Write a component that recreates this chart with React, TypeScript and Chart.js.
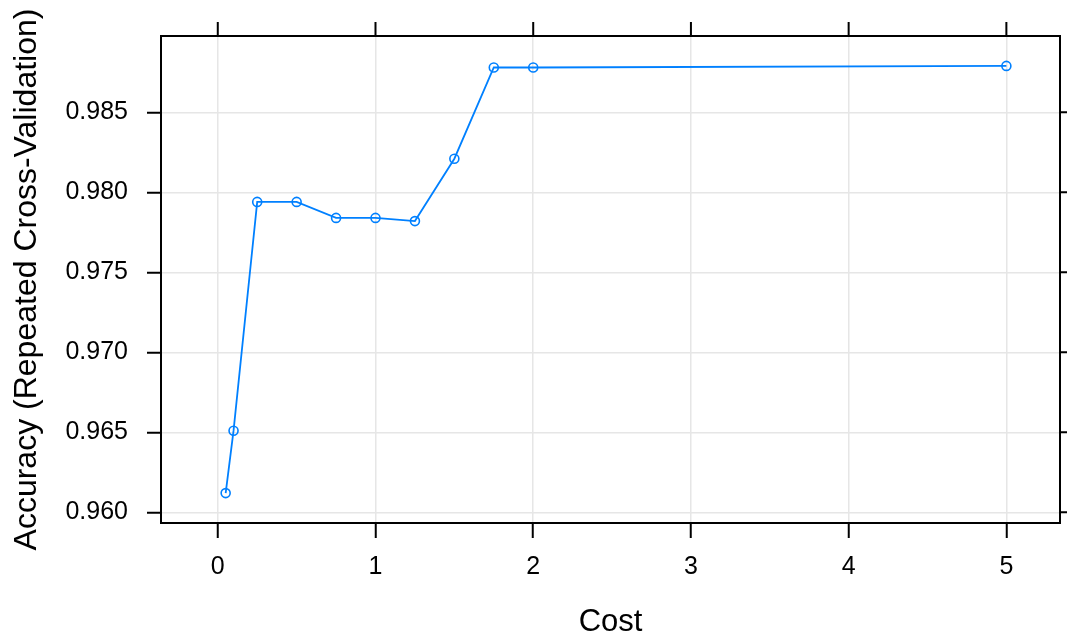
import React, { useEffect, useRef } from "react";
import { Chart, registerables } from "chart.js";

Chart.register(...registerables);

// Data
const costs = [0.05, 0.1, 0.25, 0.5, 0.75, 1, 1.25, 1.5, 1.75, 2, 5];
const accuracy = [0.9612, 0.9651, 0.9794, 0.9794, 0.9784, 0.9784, 0.9782, 0.9821, 0.9878, 0.9878, 0.9879];
const xTicks = [0, 1, 2, 3, 4, 5];
const yTicks = [0.96, 0.965, 0.97, 0.975, 0.98, 0.985];
const xTitle = "Cost";
const yTitle = "Accuracy (Repeated Cross-Validation)";

const LINE_COLOR = "#0080ff";
const FONT = "'Liberation Sans', Arial, sans-serif";

const boxPlugin = {
  id: "latticeBox",
  afterDraw(chart: any) {
    const { ctx, chartArea: a, scales } = chart;
    ctx.save();
    ctx.strokeStyle = "#000";
    ctx.lineWidth = 2;
    ctx.strokeRect(a.left, a.top, a.right - a.left, a.bottom - a.top);
    ctx.beginPath();
    for (const v of xTicks) {
      const px = scales.x.getPixelForValue(v);
      ctx.moveTo(px, a.top);
      ctx.lineTo(px, a.top - 14);
    }
    for (const v of yTicks) {
      const py = scales.y.getPixelForValue(v);
      ctx.moveTo(a.right, py);
      ctx.lineTo(a.right + 14, py);
    }
    ctx.stroke();
    ctx.restore();
  },
};

export default function App() {
  const ref = useRef<HTMLCanvasElement | null>(null);

  useEffect(() => {
    document.body.style.margin = "0";
    const canvas = ref.current;
    if (!canvas) return;
    const data = costs.map((c, i) => ({ x: c, y: accuracy[i] }));
    const chart = new Chart(canvas, {
      type: "scatter",
      data: {
        datasets: [
          {
            data,
            showLine: true,
            borderColor: LINE_COLOR,
            backgroundColor: "rgba(0,0,0,0)",
            borderWidth: 1.8,
            pointRadius: 4.5,
            pointBorderWidth: 1.6,
            pointBorderColor: LINE_COLOR,
            pointBackgroundColor: "rgba(0,0,0,0)",
            pointStyle: "circle",
          },
        ],
      },
      options: {
        responsive: false,
        animation: false,
        devicePixelRatio: 1,
        layout: { padding: { top: 36, right: 7, left: 0, bottom: 0 } },
        plugins: {
          legend: { display: false },
          tooltip: { enabled: false },
        },
        scales: {
          x: {
            type: "linear",
            min: -0.36,
            max: 5.34,
            afterBuildTicks: (s: any) => {
              s.ticks = xTicks.map((v) => ({ value: v }));
            },
            afterFit: (s: any) => {
              s.height = 113;
            },
            border: { display: false },
            grid: {
              color: "#e6e6e6",
              lineWidth: 1.5,
              drawTicks: true,
              tickLength: 15,
              tickColor: "#000",
              tickWidth: 2,
            },
            ticks: {
              autoSkip: false,
              maxRotation: 0,
              padding: 14,
              color: "#000",
              font: { family: FONT, size: 25, lineHeight: 1.2 },
              callback: (v: any) => String(v),
            },
            title: {
              display: true,
              text: xTitle,
              color: "#000",
              font: { family: FONT, size: 31, lineHeight: 1 },
              padding: { top: 0, bottom: -2 },
            },
          },
          y: {
            type: "linear",
            min: 0.95933,
            max: 0.98977,
            afterBuildTicks: (s: any) => {
              s.ticks = yTicks.map((v) => ({ value: v }));
            },
            afterFit: (s: any) => {
              s.width = 161;
            },
            border: { display: false },
            grid: {
              color: "#e6e6e6",
              lineWidth: 1.5,
              drawTicks: true,
              tickLength: 14,
              tickColor: "#000",
              tickWidth: 2,
            },
            ticks: {
              autoSkip: false,
              padding: 19,
              color: "#000",
              font: { family: FONT, size: 25, lineHeight: 1.2 },
              callback: (v: any) => Number(v).toFixed(3),
            },
            title: {
              display: true,
              text: yTitle,
              color: "#000",
              font: { family: FONT, size: 32, lineHeight: 1.2 },
              padding: { top: 8, bottom: 0 },
            },
          },
        },
      },
      plugins: [boxPlugin],
    });
    return () => chart.destroy();
  }, []);

  return <canvas ref={ref} width={1067} height={636} style={{ display: "block" }} />;
}
